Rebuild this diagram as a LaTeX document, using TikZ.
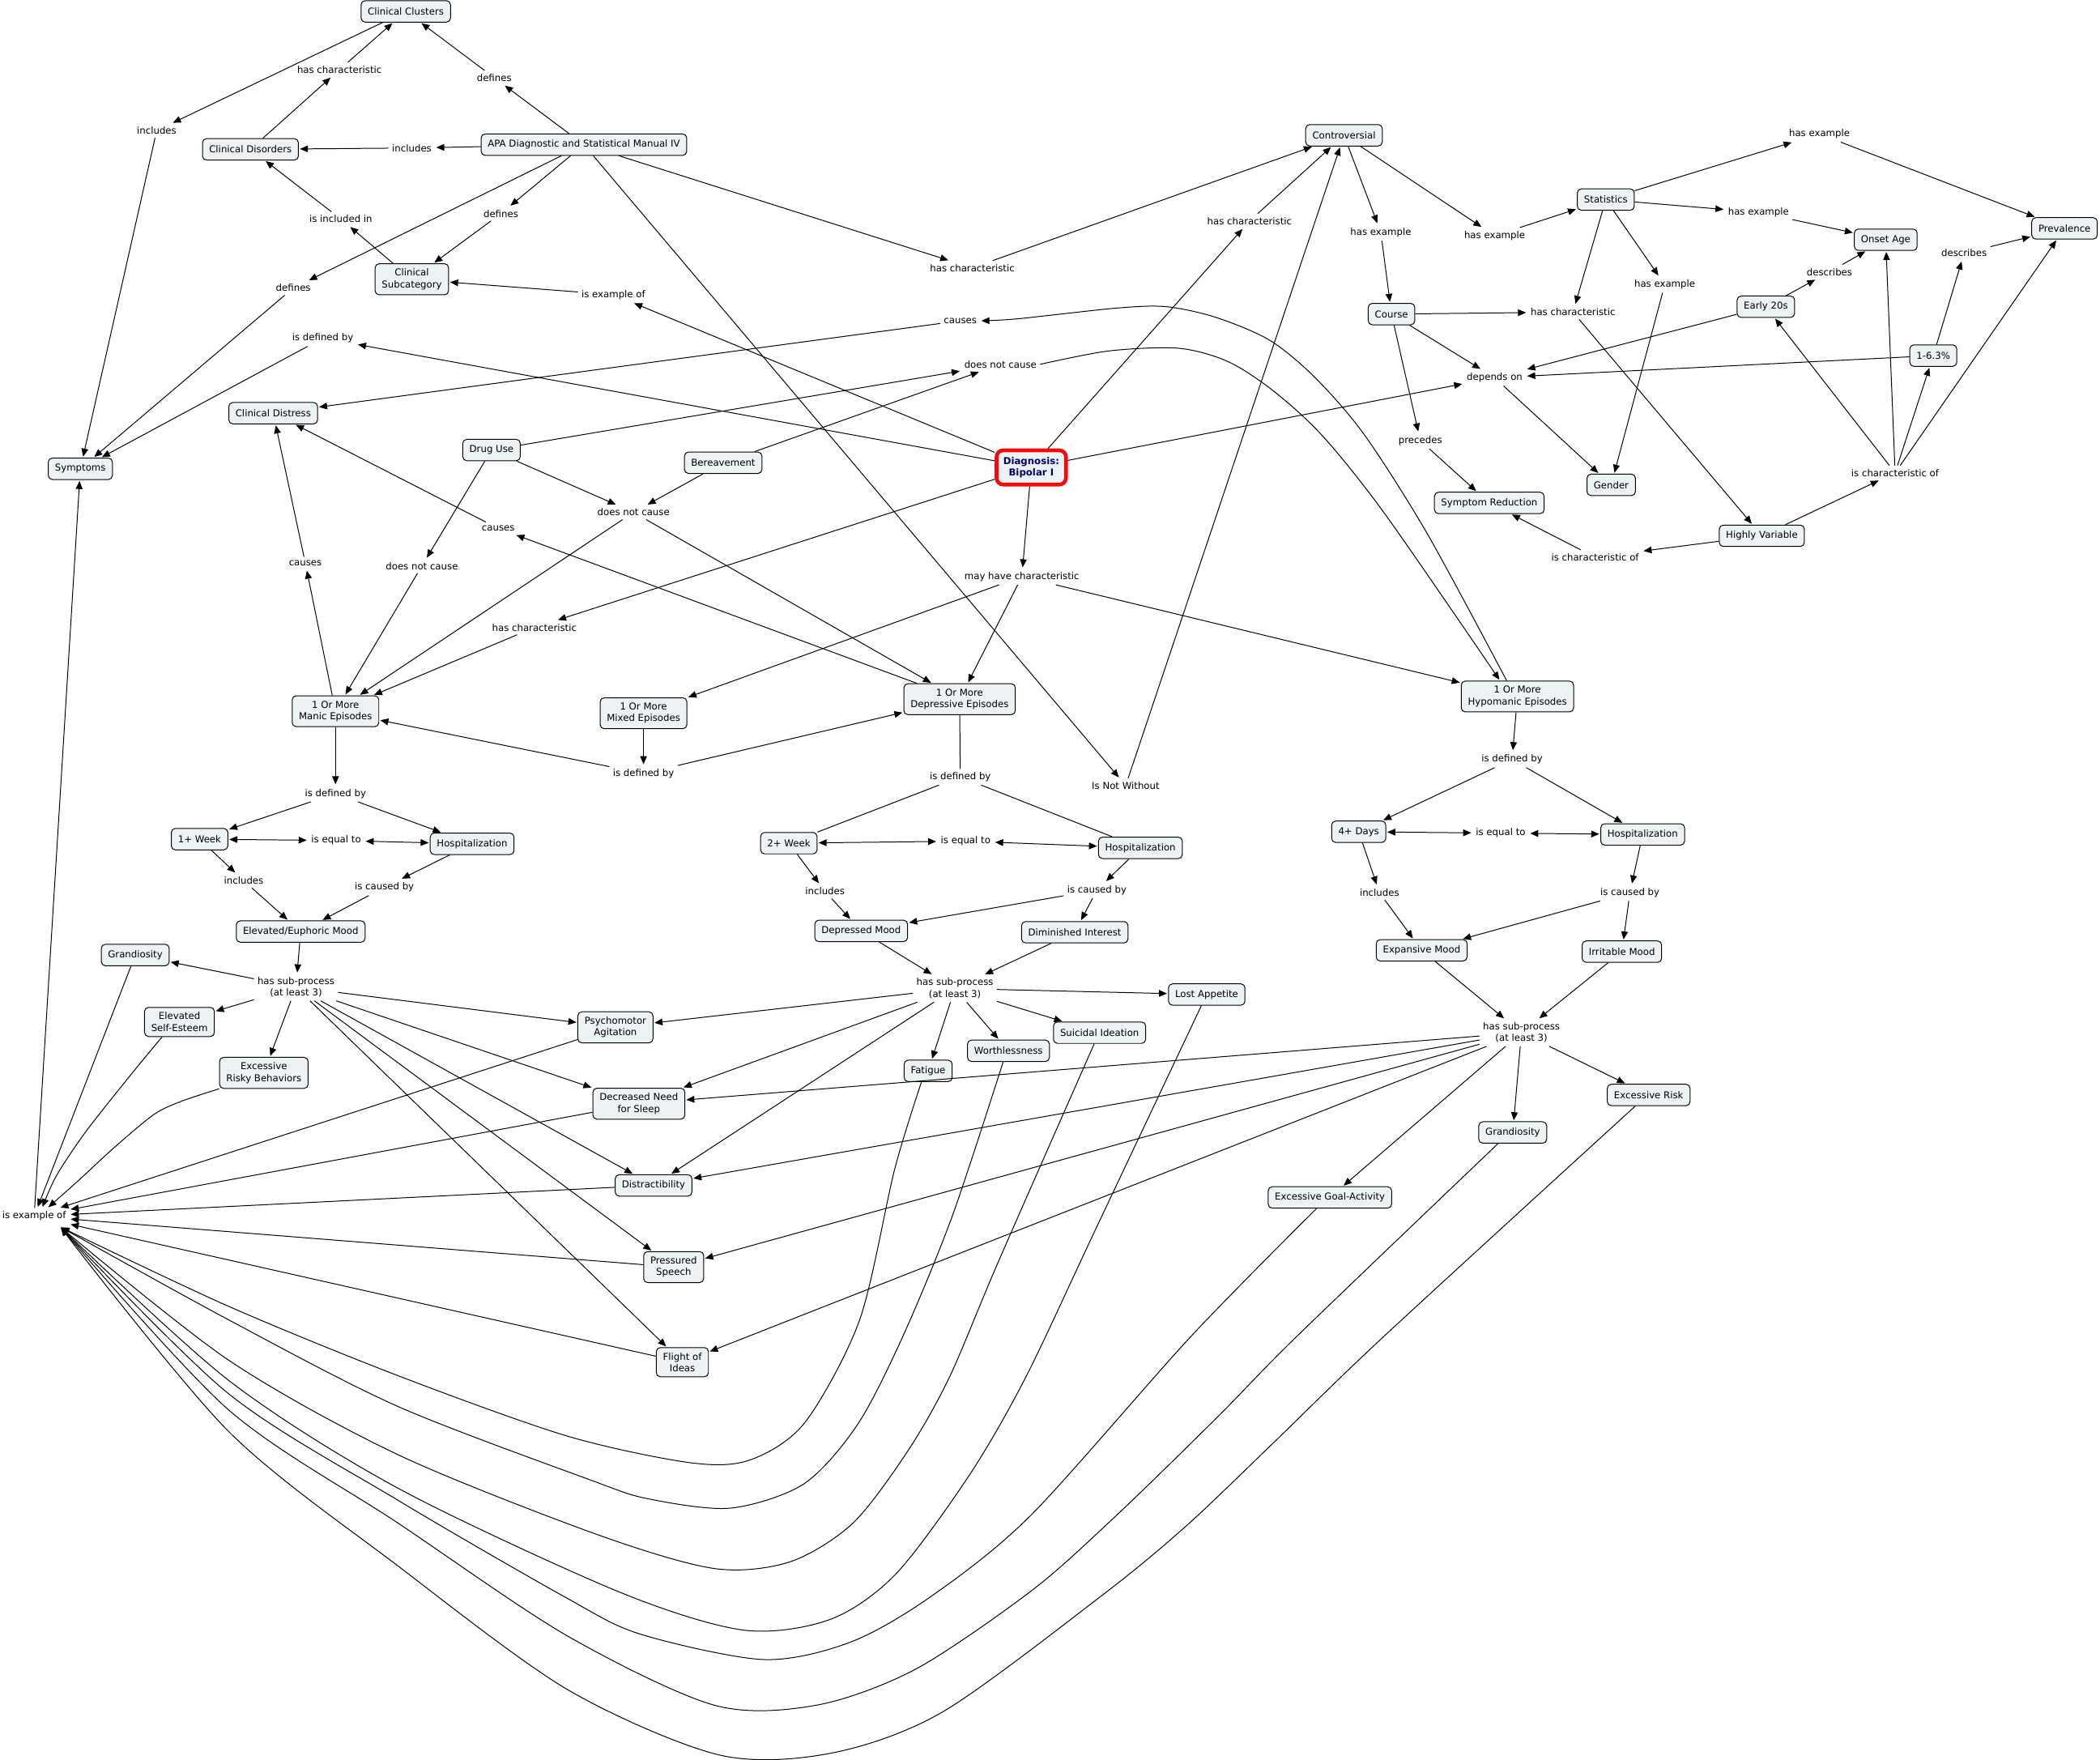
\documentclass[tikz,border=0pt]{standalone}
\usepackage{fontspec}
\setmainfont{DejaVu Sans}
\usetikzlibrary{arrows.meta}
\definecolor{conceptfill}{RGB}{237,242,245}
\definecolor{diagred}{RGB}{240,12,12}
\definecolor{diagnavy}{RGB}{0,0,120}

\begin{document}
\begin{tikzpicture}[
    x=1pt, y=-1pt,
    font=\fontsize{7.1}{8.7}\selectfont,
    concept/.style={
      rectangle,
      rounded corners=3pt,
      draw,
      line width=0.6pt,
      fill=conceptfill,
      inner xsep=5pt,
      inner ysep=3.8pt,
      minimum height=16pt,
      align=center,
    },
    diagnosis/.style={
      concept,
      draw=diagred,
      line width=2.8pt,
      rounded corners=5pt,
      inner ysep=5pt,
      text=diagnavy,
      font=\fontsize{7.1}{8.7}\selectfont\bfseries,
    },
    phrase/.style={inner sep=2.5pt, align=center},
    link/.style={line width=0.6pt, shorten >=0.8pt, -{Triangle[length=6pt,width=5pt]}},
    twoway/.style={line width=0.6pt, shorten >=0.8pt, shorten <=0.8pt,
      {Triangle[length=6pt,width=5pt]}-{Triangle[length=6pt,width=5pt]}},
    plainlink/.style={line width=0.6pt},
  ]
    \useasboundingbox (0,0) rectangle (1568,1314);

    % concepts, top left
    \node[concept] (ClinicalClusters) at (303,8.5) {Clinical Clusters};
    \node[concept] (ClinicalDisorders) at (187,111.5) {Clinical Disorders};
    \node[concept] (ApaManual) at (436,108) {APA Diagnostic and Statistical Manual IV};
    \node[concept] (ClinicalSubcategory) at (307.5,208.5) {Clinical\\Subcategory};
    \node[concept] (ClinicalDistress) at (204,308.5) {Clinical Distress};
    \node[concept] (Symptoms) at (60,350) {Symptoms};
    \node[concept] (DrugUse) at (367,336) {Drug Use};
    \node[concept] (Bereavement) at (540,345.5) {Bereavement};
    \node[diagnosis] (Diagnosis) at (770,349) {Diagnosis:\\Bipolar I};

    % concepts, top right
    \node[concept] (Controversial) at (1003.5,101) {Controversial};
    \node[concept] (Statistics) at (1199,149) {Statistics};
    \node[concept] (Prevalence) at (1541.5,170.5) {Prevalence};
    \node[concept] (OnsetAge) at (1408,179) {Onset Age};
    \node[concept] (Course) at (1039,234.5) {Course};
    \node[concept] (EarlyTwenties) at (1318.5,229) {Early 20s};
    \node[concept] (PrevalenceRate) at (1443.5,265.5) {1-6.3\%};
    \node[concept] (Gender) at (1203,362) {Gender};
    \node[concept] (SymptomReduction) at (1112,375.5) {Symptom Reduction};
    \node[concept] (HighlyVariable) at (1315.5,400) {Highly Variable};

    % episodes
    \node[concept] (ManicEp) at (250.5,531) {1 Or More\\Manic Episodes};
    \node[concept] (MixedEp) at (480.5,532.5) {1 Or More\\Mixed Episodes};
    \node[concept] (DepressiveEp) at (716.5,522) {1 Or More\\Depressive Episodes};
    \node[concept] (HypomanicEp) at (1133,520) {1 Or More\\Hypomanic Episodes};
    \node[concept] (WeekOne) at (149,626.5) {1+ Week};
    \node[concept] (HospManic) at (352.5,630) {Hospitalization};
    \node[concept] (WeekTwo) at (589,629.5) {2+ Week};
    \node[concept] (HospDepr) at (851.5,633) {Hospitalization};
    \node[concept] (DaysFour) at (1014.5,621) {4+ Days};
    \node[concept] (HospHypo) at (1226.5,623) {Hospitalization};
    \node[concept] (ElevatedMood) at (224.5,695.5) {Elevated/Euphoric Mood};
    \node[concept] (DepressedMood) at (643,695) {Depressed Mood};
    \node[concept] (DiminishedInterest) at (802.5,696) {Diminished Interest};
    \node[concept] (ExpansiveMood) at (1061.5,709.5) {Expansive Mood};
    \node[concept] (IrritableMood) at (1211,710.5) {Irritable Mood};

    % symptoms
    \node[concept] (GrandiosityManic) at (101,713) {Grandiosity};
    \node[concept] (ElevatedSelfEsteem) at (134,763) {Elevated\\Self-Esteem};
    \node[concept] (RiskyBehaviors) at (197,801) {Excessive\\Risky Behaviors};
    \node[concept] (Psychomotor) at (459.5,767) {Psychomotor\\Agitation};
    \node[concept] (DecreasedSleep) at (477,824) {Decreased Need\\for Sleep};
    \node[concept] (Distractibility) at (488,885) {Distractibility};
    \node[concept] (PressuredSpeech) at (503,946) {Pressured\\Speech};
    \node[concept] (FlightIdeas) at (509.5,1017) {Flight of\\Ideas};
    \node[concept] (LostAppetite) at (901,742.5) {Lost Appetite};
    \node[concept] (SuicidalIdeation) at (821,771) {Suicidal Ideation};
    \node[concept] (Worthlessness) at (753,784.5) {Worthlessness};
    \node[concept] (Fatigue) at (693,799.5) {Fatigue};
    \node[concept] (GrandiosityHypo) at (1129.5,845.5) {Grandiosity};
    \node[concept] (ExcessiveRisk) at (1231,817.5) {Excessive Risk};
    \node[concept] (GoalActivity) at (993,894) {Excessive Goal-Activity};

    % linking phrases
    \node[phrase] (IncludesSym) at (117,97.5) {includes};
    \node[phrase] (HasCharCC) at (253.5,52) {has characteristic};
    \node[phrase] (DefinesCC) at (369,58) {defines};
    \node[phrase] (IncludesCD) at (307.5,110.5) {includes};
    \node[phrase] (IsIncludedIn) at (254.5,163.5) {is included in};
    \node[phrase] (DefinesSub) at (374,159.5) {defines};
    \node[phrase] (DefinesSym) at (219,215) {defines};
    \node[phrase] (IsExampleSub) at (458,220) {is example of};
    \node[phrase] (IsDefinedSym) at (241,252.5) {is defined by};
    \node[phrase] (CausesTop) at (717,239.5) {causes};
    \node[phrase] (NotCauseTop) at (747,272) {does not cause};
    \node[phrase] (HasCharApa) at (726,200) {has characteristic};
    \node[phrase] (HasCharDiag) at (933,165) {has characteristic};
    \node[phrase] (NotWithout) at (840.5,586.5) {Is Not Without};
    \node[phrase] (HasExCourse) at (1031,173.5) {has example};
    \node[phrase] (HasExStats) at (1116,176) {has example};
    \node[phrase] (HasExPrev) at (1358.5,100) {has example};
    \node[phrase] (HasExOnset) at (1313,158.5) {has example};
    \node[phrase] (HasExGender) at (1243,212.5) {has example};
    \node[phrase] (HasCharVar) at (1174.5,233) {has characteristic};
    \node[phrase] (DescribesOnset) at (1366,203) {describes};
    \node[phrase] (DescribesPrev) at (1466.5,189) {describes};
    \node[phrase] (DependsOn) at (1116,282) {depends on};
    \node[phrase] (Precedes) at (1060.5,329) {precedes};
    \node[phrase] (CharOfStats) at (1415,353) {is characteristic of};
    \node[phrase] (CharOfReduction) at (1191,416) {is characteristic of};
    \node[phrase] (NotCauseMid) at (473,382.5) {does not cause};
    \node[phrase] (CausesMid) at (372,394.5) {causes};
    \node[phrase] (NotCauseLeft) at (315,422.5) {does not cause};
    \node[phrase] (CausesLeft) at (228,420.5) {causes};
    \node[phrase] (HasCharManic) at (399,468.5) {has characteristic};
    \node[phrase] (MayHaveChar) at (763,430.5) {may have characteristic};
    \node[phrase] (DefinedMixed) at (480.5,577.5) {is defined by};
    \node[phrase] (DefinedManic) at (250.5,592.5) {is defined by};
    \node[phrase] (DefinedDepr) at (717,580) {is defined by};
    \node[phrase] (DefinedHypo) at (1129,567) {is defined by};
    \node[phrase] (EqualManic) at (251,627.5) {is equal to};
    \node[phrase] (EqualDepr) at (721,628) {is equal to};
    \node[phrase] (EqualHypo) at (1120.5,622) {is equal to};
    \node[phrase] (IncludesManic) at (182,657.5) {includes};
    \node[phrase] (CausedManic) at (287,662.5) {is caused by};
    \node[phrase] (IncludesDepr) at (616,665.5) {includes};
    \node[phrase] (CausedDepr) at (819,664.5) {is caused by};
    \node[phrase] (IncludesHypo) at (1030,666.5) {includes};
    \node[phrase] (CausedHypo) at (1217,666.5) {is caused by};
    \node[phrase] (SubManic) at (221,737) {has sub-process\\(at least 3)};
    \node[phrase] (SubDepr) at (713,738) {has sub-process\\(at least 3)};
    \node[phrase] (SubHypo) at (1136,771) {has sub-process\\(at least 3)};
    \node[phrase] (IsExampleSym) at (25.5,908) {is example of};
    \coordinate (ExTip) at (45,916);

    % APA manual, clusters and subcategories
    \draw[link] (ClinicalClusters) -- (IncludesSym);
    \draw[link] (IncludesSym) -- (Symptoms);
    \draw[link] (ClinicalDisorders) -- (HasCharCC);
    \draw[link] (HasCharCC) -- (ClinicalClusters);
    \draw[link] (ApaManual) -- (DefinesCC);
    \draw[link] (DefinesCC) -- (ClinicalClusters);
    \draw[link] (ApaManual) -- (IncludesCD);
    \draw[link] (IncludesCD) -- (ClinicalDisorders);
    \draw[link] (ApaManual) -- (DefinesSub);
    \draw[link] (DefinesSub) -- (ClinicalSubcategory);
    \draw[link] (ClinicalSubcategory) -- (IsIncludedIn);
    \draw[link] (IsIncludedIn) -- (ClinicalDisorders);
    \draw[link] (ApaManual) -- (DefinesSym);
    \draw[link] (DefinesSym) -- (Symptoms);
    \draw[link] (ApaManual) -- (HasCharApa);
    \draw[link] (HasCharApa) -- (Controversial);
    \draw[link] (ApaManual) -- (NotWithout);
    \draw[link] (NotWithout) -- (Controversial);

    % Diagnosis
    \draw[link] (Diagnosis) -- (IsExampleSub);
    \draw[link] (IsExampleSub) -- (ClinicalSubcategory);
    \draw[link] (Diagnosis) -- (IsDefinedSym);
    \draw[link] (IsDefinedSym) -- (Symptoms);
    \draw[link] (Diagnosis) -- (HasCharDiag);
    \draw[link] (HasCharDiag) -- (Controversial);
    \draw[link] (Diagnosis) -- (DependsOn);
    \draw[link] (Diagnosis) -- (HasCharManic);
    \draw[link] (HasCharManic) -- (ManicEp);
    \draw[link] (Diagnosis) -- (MayHaveChar);
    \draw[link] (MayHaveChar) -- (MixedEp);
    \draw[link] (MayHaveChar) -- (DepressiveEp);
    \draw[link] (MayHaveChar) -- (HypomanicEp);

    % causes / does not cause
    \draw[link] plot[smooth] coordinates {([xshift=-8pt]HypomanicEp.north) (1066,399) (1019,325) (982,282) (948,254) (908,237) (871,229) (834,230) (760,238) (CausesTop.east)};
    \draw[link] (CausesTop) -- (ClinicalDistress);
    \draw[link] (DrugUse) -- (NotCauseTop);
    \draw[link] (Bereavement) -- (NotCauseTop);
    \draw[link] plot[smooth] coordinates {(NotCauseTop.east) (828,262) (880,260) (917,270) (951,292) (988,326) (1035,385) ([xshift=-13pt]HypomanicEp.north)};
    \draw[link] (DrugUse) -- (NotCauseMid);
    \draw[link] (Bereavement) -- (NotCauseMid);
    \draw[link] (NotCauseMid) -- (ManicEp);
    \draw[link] (NotCauseMid) -- (DepressiveEp);
    \draw[link] (DrugUse) -- (NotCauseLeft);
    \draw[link] (NotCauseLeft) -- (ManicEp);
    \draw[link] (DepressiveEp) -- (CausesMid);
    \draw[link] (CausesMid) -- (ClinicalDistress);
    \draw[link] (ManicEp) -- (CausesLeft);
    \draw[link] (CausesLeft) -- (ClinicalDistress);

    % Controversial, Statistics, Course
    \draw[link] (Controversial) -- (HasExCourse);
    \draw[link] (HasExCourse) -- (Course);
    \draw[link] (Controversial) -- (HasExStats);
    \draw[link] (HasExStats) -- (Statistics);
    \draw[link] (Statistics) -- (HasExPrev);
    \draw[link] (HasExPrev) -- (Prevalence);
    \draw[link] (Statistics) -- (HasExOnset);
    \draw[link] (HasExOnset) -- (OnsetAge);
    \draw[link] (Statistics) -- (HasExGender);
    \draw[link] (HasExGender) -- (Gender);
    \draw[link] (Statistics) -- (HasCharVar);
    \draw[link] (Course) -- (HasCharVar);
    \draw[link] (HasCharVar) -- (HighlyVariable);
    \draw[link] (EarlyTwenties) -- (DescribesOnset);
    \draw[link] (DescribesOnset) -- (OnsetAge);
    \draw[link] (PrevalenceRate) -- (DescribesPrev);
    \draw[link] (DescribesPrev) -- (Prevalence);
    \draw[link] (Course) -- (DependsOn);
    \draw[link] (EarlyTwenties) -- (DependsOn);
    \draw[link] (PrevalenceRate) -- (DependsOn);
    \draw[link] (DependsOn) -- (Gender);
    \draw[link] (Course) -- (Precedes);
    \draw[link] (Precedes) -- (SymptomReduction);
    \draw[link] (HighlyVariable) -- (CharOfStats);
    \draw[link] (CharOfStats) -- (EarlyTwenties);
    \draw[link] (CharOfStats) -- (OnsetAge);
    \draw[link] (CharOfStats) -- (PrevalenceRate);
    \draw[link] (CharOfStats) -- (Prevalence);
    \draw[link] (HighlyVariable) -- (CharOfReduction);
    \draw[link] (CharOfReduction) -- (SymptomReduction);

    % manic branch
    \draw[link] (MixedEp) -- (DefinedMixed);
    \draw[link] (DefinedMixed) -- (ManicEp);
    \draw[link] (DefinedMixed) -- (DepressiveEp);
    \draw[link] (ManicEp) -- (DefinedManic);
    \draw[link] (DefinedManic) -- (WeekOne);
    \draw[link] (DefinedManic) -- (HospManic);
    \draw[twoway] (WeekOne) -- (EqualManic);
    \draw[twoway] (EqualManic) -- (HospManic);
    \draw[link] (WeekOne) -- (IncludesManic);
    \draw[link] (IncludesManic) -- (ElevatedMood);
    \draw[link] (HospManic) -- (CausedManic);
    \draw[link] (CausedManic) -- (ElevatedMood);
    \draw[link] (ElevatedMood) -- (SubManic);
    \draw[link] (SubManic) -- (GrandiosityManic);
    \draw[link] (SubManic) -- (ElevatedSelfEsteem);
    \draw[link] (SubManic) -- (RiskyBehaviors);
    \draw[link] (SubManic) -- (Psychomotor);
    \draw[link] (SubManic) -- (DecreasedSleep);
    \draw[link] (SubManic) -- (Distractibility);
    \draw[link] (SubManic) -- (PressuredSpeech);
    \draw[link] (SubManic) -- (FlightIdeas);

    % depressive branch
    \draw[plainlink] (DepressiveEp) -- (DefinedDepr);
    \draw[plainlink] (DefinedDepr) -- (WeekTwo);
    \draw[plainlink] (DefinedDepr) -- (HospDepr);
    \draw[twoway] (WeekTwo) -- (EqualDepr);
    \draw[twoway] (EqualDepr) -- (HospDepr);
    \draw[link] (WeekTwo) -- (IncludesDepr);
    \draw[link] (IncludesDepr) -- (DepressedMood);
    \draw[link] (HospDepr) -- (CausedDepr);
    \draw[link] (CausedDepr) -- (DepressedMood);
    \draw[link] (CausedDepr) -- (DiminishedInterest);
    \draw[link] (DepressedMood) -- (SubDepr);
    \draw[link] (DiminishedInterest) -- (SubDepr);
    \draw[link] (SubDepr) -- (LostAppetite);
    \draw[link] (SubDepr) -- (SuicidalIdeation);
    \draw[link] (SubDepr) -- (Worthlessness);
    \draw[link] (SubDepr) -- (Fatigue);
    \draw[link] (SubDepr) -- (Psychomotor);
    \draw[link] (SubDepr) -- (DecreasedSleep);
    \draw[link] (SubDepr) -- (Distractibility);

    % hypomanic branch
    \draw[link] (HypomanicEp) -- (DefinedHypo);
    \draw[link] (DefinedHypo) -- (DaysFour);
    \draw[link] (DefinedHypo) -- (HospHypo);
    \draw[twoway] (DaysFour) -- (EqualHypo);
    \draw[twoway] (EqualHypo) -- (HospHypo);
    \draw[link] (DaysFour) -- (IncludesHypo);
    \draw[link] (IncludesHypo) -- (ExpansiveMood);
    \draw[link] (HospHypo) -- (CausedHypo);
    \draw[link] (CausedHypo) -- (ExpansiveMood);
    \draw[link] (CausedHypo) -- (IrritableMood);
    \draw[link] (ExpansiveMood) -- (SubHypo);
    \draw[link] (IrritableMood) -- (SubHypo);
    \draw[link] (SubHypo) -- (ExcessiveRisk);
    \draw[link] (SubHypo) -- (GrandiosityHypo);
    \draw[link] (SubHypo) -- (GoalActivity);
    \draw[link] (SubHypo) -- (DecreasedSleep);
    \draw[link] (SubHypo) -- (Distractibility);
    \draw[link] (SubHypo) -- (PressuredSpeech);
    \draw[link] (SubHypo) -- (FlightIdeas);

    % is example of -> Symptoms
    \draw[link] (IsExampleSym) -- (Symptoms);
    \draw[link] (GrandiosityManic) -- (IsExampleSym);
    \draw[link] plot[smooth] coordinates {([xshift=-13pt]ElevatedSelfEsteem.south) (98,802) (64,845) (42,878) ([xshift=6pt]IsExampleSym.north)};
    \draw[link] plot[smooth] coordinates {(RiskyBehaviors.south west) (136,822) (115,832) (85,857) (59,881) ([xshift=10pt]IsExampleSym.north)};
    \draw[link] (Psychomotor) -- (IsExampleSym);
    \draw[link] (DecreasedSleep) -- (IsExampleSym);
    \draw[link] (Distractibility) -- (IsExampleSym);
    \draw[link] (PressuredSpeech) -- (IsExampleSym);
    \draw[link] (FlightIdeas) -- (IsExampleSym);
    \draw[link] plot[smooth] coordinates {([xshift=-5pt]Fatigue.south) (668,873) (642,985) (601,1062) (560,1090) (515,1092) (423,1072) (297,1027) (170,975) (ExTip)};
    \draw[link] plot[smooth] coordinates {([xshift=-4pt]Worthlessness.south) (711,908) (674,998) (640,1064) (600,1108) (545,1126) (484,1119) (441,1105) (297,1050) (170,985) (ExTip)};
    \draw[link] plot[smooth] coordinates {([xshift=-4pt]SuicidalIdeation.south) (745,943) (709,1028) (678,1083) (637,1137) (590,1166) (533,1171) (444,1145) (297,1086) (170,1015) (ExTip)};
    \draw[link] plot[smooth] coordinates {([xshift=-4pt]LostAppetite.south) (817,920) (766,1028) (724,1101) (669,1175) (620,1209) (555,1217) (461,1188) (297,1111) (170,1030) (ExTip)};
    \draw[link] plot[smooth] coordinates {([xshift=-10pt]GoalActivity.south) (889,998) (770,1131) (695,1192) (635,1226) (570,1239) (478,1220) (423,1193) (297,1120) (170,1040) (ExTip)};
    \draw[link] plot[smooth] coordinates {([xshift=-11pt]GrandiosityHypo.south) (968,998) (909,1058) (834,1131) (771,1187) (684,1246) (610,1273) (533,1273) (423,1221) (297,1137) (170,1052) (ExTip)};
    \draw[link] plot[smooth] coordinates {([xshift=-10pt]ExcessiveRisk.south) (1033,998) (950,1078) (886,1139) (823,1191) (704,1278) (620,1309) (536,1310) (423,1261) (297,1169) (170,1068) (ExTip)};
  \end{tikzpicture}
\end{document}
